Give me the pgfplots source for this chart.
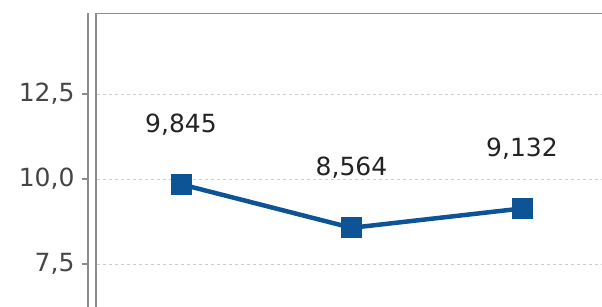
\documentclass[border=0pt]{standalone}
\usepackage{pgfplots}
\pgfplotsset{compat=1.18}
\usepackage{fontspec}
\setmainfont{DejaVu Sans}
\definecolor{lineblue}{RGB}{12,84,150}
\definecolor{axgray}{RGB}{140,140,140}
\definecolor{gridgray}{RGB}{205,205,205}
\definecolor{ticktext}{RGB}{70,70,70}
\definecolor{labtext}{RGB}{35,35,35}
\begin{document}
\begin{tikzpicture}
\useasboundingbox (0pt,0pt) rectangle (602pt,307pt);
\clip (0pt,0pt) rectangle (602pt,307pt);
\begin{axis}[
  at={(88pt,-8pt)}, anchor=south west,
  scale only axis, width=522pt, height=301.6pt,
  xmin=-0.5455, xmax=2.516, ymin=6, ymax=14.87,
  axis x line=none, axis y line*=left,
  axis line style={axgray, line width=1.6pt},
  ytick={7.5,10,12.5},
  yticklabel style={xshift=-4pt, font=\fontsize{25}{30}\selectfont, text=ticktext,
    /pgf/number format/.cd, use comma, fixed, fixed zerofill, precision=1, assume math mode=true},
  tick align=outside, major tick length=6pt,
  tick style={axgray, line width=1.2pt},
  clip=false,
]
\draw[gridgray, line width=0.9pt, dash pattern=on 3pt off 3pt] (axis cs:-0.49,12.5) -- (axis cs:2.516,12.5);
\draw[gridgray, line width=0.9pt, dash pattern=on 3pt off 3pt] (axis cs:-0.49,10) -- (axis cs:2.516,10);
\draw[gridgray, line width=0.9pt, dash pattern=on 3pt off 3pt] (axis cs:-0.49,7.5) -- (axis cs:2.516,7.5);
\draw[axgray, line width=1.6pt] (axis cs:-0.4985,6) -- (axis cs:-0.4985,14.87) -- (axis cs:2.516,14.87);
\addplot[lineblue, line width=4.5pt, mark=square*, mark size=10pt,
  mark options={line width=0pt, fill=lineblue},
  point meta=explicit symbolic,
  nodes near coords,
  every node near coord/.append style={anchor=center, yshift=60pt,
    font=\fontsize{25}{30}\selectfont, text=labtext}]
  coordinates {(0,9.845) [9,845] (1,8.564) [8,564] (2,9.132) [9,132]};
\end{axis}
\end{tikzpicture}
\end{document}
